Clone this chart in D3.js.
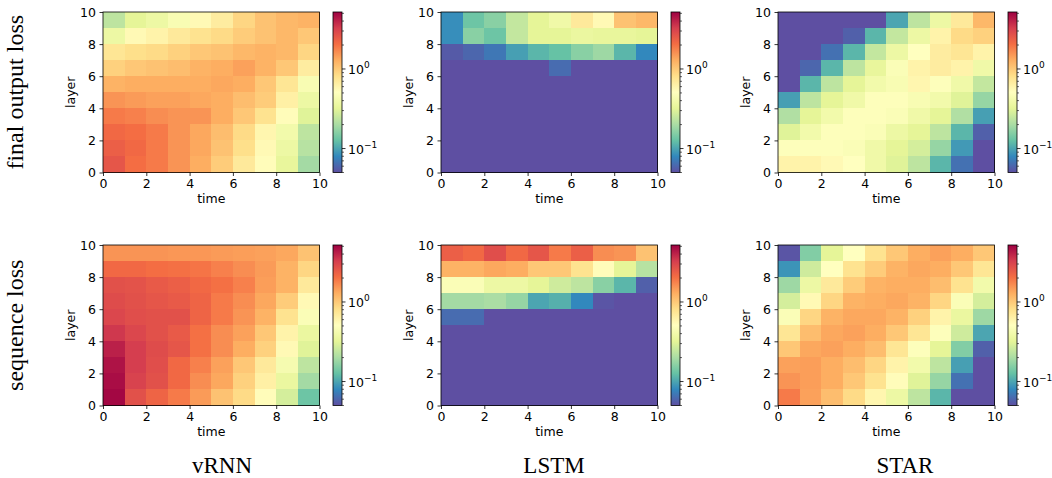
<!DOCTYPE html>
<html>
<head>
<meta charset="utf-8">
<script src="https://cdn.jsdelivr.net/npm/d3@7/dist/d3.min.js"></script>
<style>
  body { margin: 0; background: #fff; }
  svg text { font-family: "DejaVu Sans", sans-serif; fill: #000; }
</style>
</head>
<body>
<script>
// loss values per cell, rows listed from layer 9 (top) down to layer 0, columns = time 0..9
var vrnnFinal = [
  [0.232, 0.321, 0.368, 0.444, 0.560, 0.674, 0.891, 1.07, 1.18, 1.23],
  [0.368, 0.560, 0.614, 0.706, 0.775, 0.850, 0.977, 1.07, 1.18, 1.02],
  [0.740, 0.811, 0.850, 0.933, 1.02, 1.07, 1.18, 1.23, 1.18, 0.891],
  [0.933, 1.02, 1.07, 1.12, 1.23, 1.29, 1.42, 1.23, 1.02, 0.674],
  [1.23, 1.29, 1.29, 1.29, 1.29, 1.35, 1.29, 1.02, 0.740, 0.444],
  [1.55, 1.48, 1.42, 1.42, 1.35, 1.29, 1.12, 0.977, 0.643, 0.368],
  [1.87, 1.79, 1.63, 1.55, 1.55, 1.29, 1.02, 0.775, 0.534, 0.306],
  [2.15, 2.05, 1.87, 1.55, 1.35, 1.12, 0.850, 0.586, 0.404, 0.232],
  [2.36, 2.15, 1.87, 1.55, 1.35, 1.07, 0.811, 0.560, 0.368, 0.221],
  [2.59, 2.05, 1.87, 1.55, 1.29, 0.977, 0.706, 0.534, 0.336, 0.192]
];
var lstmFinal = [
  [0.0834, 0.133, 0.160, 0.243, 0.321, 0.386, 0.706, 0.560, 1.07, 1.18],
  [0.0834, 0.160, 0.133, 0.243, 0.321, 0.321, 0.352, 0.336, 0.336, 0.321],
  [0.0548, 0.0602, 0.0692, 0.0958, 0.115, 0.127, 0.160, 0.184, 0.115, 0.0796],
  [0.04, 0.04, 0.04, 0.04, 0.04, 0.0631, 0.04, 0.04, 0.04, 0.04],
  [0.04, 0.04, 0.04, 0.04, 0.04, 0.04, 0.04, 0.04, 0.04, 0.04],
  [0.04, 0.04, 0.04, 0.04, 0.04, 0.04, 0.04, 0.04, 0.04, 0.04],
  [0.04, 0.04, 0.04, 0.04, 0.04, 0.04, 0.04, 0.04, 0.04, 0.04],
  [0.04, 0.04, 0.04, 0.04, 0.04, 0.04, 0.04, 0.04, 0.04, 0.04],
  [0.04, 0.04, 0.04, 0.04, 0.04, 0.04, 0.04, 0.04, 0.04, 0.04],
  [0.04, 0.04, 0.04, 0.04, 0.04, 0.04, 0.04, 0.04, 0.04, 0.04]
];
var starFinal = [
  [0.04, 0.04, 0.04, 0.04, 0.04, 0.100, 0.232, 0.368, 0.706, 1.18],
  [0.04, 0.04, 0.04, 0.0575, 0.115, 0.243, 0.368, 0.614, 0.850, 0.933],
  [0.04, 0.04, 0.0661, 0.115, 0.243, 0.368, 0.510, 0.674, 0.740, 0.614],
  [0.04, 0.0602, 0.115, 0.232, 0.336, 0.465, 0.614, 0.674, 0.614, 0.386],
  [0.04, 0.115, 0.232, 0.321, 0.404, 0.444, 0.586, 0.487, 0.386, 0.243],
  [0.0958, 0.232, 0.321, 0.386, 0.487, 0.487, 0.444, 0.404, 0.306, 0.175],
  [0.211, 0.321, 0.404, 0.487, 0.487, 0.465, 0.386, 0.321, 0.211, 0.0958],
  [0.306, 0.404, 0.487, 0.487, 0.465, 0.368, 0.321, 0.232, 0.115, 0.0575],
  [0.487, 0.487, 0.487, 0.465, 0.386, 0.321, 0.279, 0.175, 0.0915, 0.04],
  [0.614, 0.614, 0.560, 0.510, 0.386, 0.306, 0.232, 0.115, 0.0661, 0.04]
];
var vrnnSeq = [
  [1.55, 1.55, 1.55, 1.52, 1.52, 1.48, 1.45, 1.42, 1.35, 1.07],
  [2.15, 2.15, 2.05, 2.01, 1.96, 1.79, 1.63, 1.48, 1.23, 0.891],
  [2.71, 2.65, 2.47, 2.36, 2.15, 2.01, 1.79, 1.45, 1.23, 0.706],
  [2.84, 2.71, 2.59, 2.47, 2.25, 1.87, 1.63, 1.35, 0.977, 0.560],
  [2.98, 2.78, 2.71, 2.71, 2.25, 1.87, 1.55, 1.23, 0.775, 0.465],
  [3.43, 2.98, 2.71, 2.47, 2.01, 1.63, 1.42, 1.02, 0.614, 0.352],
  [4.12, 3.27, 2.84, 2.59, 2.01, 1.63, 1.29, 0.933, 0.560, 0.306],
  [4.53, 3.27, 2.78, 2.15, 1.79, 1.42, 1.02, 0.706, 0.424, 0.232],
  [4.74, 3.12, 2.71, 2.15, 1.63, 1.35, 0.933, 0.643, 0.352, 0.192],
  [4.97, 2.71, 2.25, 1.87, 1.48, 1.07, 0.850, 0.534, 0.279, 0.133]
];
var lstmSeq = [
  [2.36, 2.15, 2.78, 2.15, 2.59, 1.87, 2.36, 1.63, 1.55, 1.07],
  [1.23, 1.23, 1.35, 1.29, 1.02, 1.02, 0.775, 0.534, 0.321, 0.221],
  [0.465, 0.465, 0.368, 0.368, 0.321, 0.266, 0.232, 0.160, 0.115, 0.0575],
  [0.192, 0.192, 0.201, 0.175, 0.100, 0.110, 0.0796, 0.0524, 0.04, 0.04],
  [0.0631, 0.0631, 0.04, 0.04, 0.04, 0.04, 0.04, 0.04, 0.04, 0.04],
  [0.04, 0.04, 0.04, 0.04, 0.04, 0.04, 0.04, 0.04, 0.04, 0.04],
  [0.04, 0.04, 0.04, 0.04, 0.04, 0.04, 0.04, 0.04, 0.04, 0.04],
  [0.04, 0.04, 0.04, 0.04, 0.04, 0.04, 0.04, 0.04, 0.04, 0.04],
  [0.04, 0.04, 0.04, 0.04, 0.04, 0.04, 0.04, 0.04, 0.04, 0.04],
  [0.04, 0.04, 0.04, 0.04, 0.04, 0.04, 0.04, 0.04, 0.04, 0.04]
];
var starSeq = [
  [0.0524, 0.153, 0.321, 0.510, 0.775, 1.02, 1.29, 1.42, 1.29, 1.02],
  [0.0873, 0.266, 0.510, 0.775, 0.977, 1.23, 1.35, 1.29, 1.02, 0.740],
  [0.184, 0.368, 0.706, 0.977, 1.23, 1.29, 1.29, 1.12, 0.775, 0.404],
  [0.279, 0.560, 0.891, 1.23, 1.29, 1.35, 1.23, 0.891, 0.465, 0.279],
  [0.465, 0.891, 1.23, 1.35, 1.35, 1.23, 0.933, 0.614, 0.352, 0.184],
  [0.740, 1.12, 1.35, 1.42, 1.29, 1.02, 0.740, 0.487, 0.266, 0.100],
  [1.02, 1.35, 1.42, 1.29, 1.12, 0.740, 0.487, 0.321, 0.153, 0.0575],
  [1.42, 1.45, 1.29, 1.12, 0.891, 0.614, 0.404, 0.232, 0.0958, 0.04],
  [1.55, 1.45, 1.29, 1.02, 0.775, 0.534, 0.306, 0.175, 0.0661, 0.04],
  [1.87, 1.42, 1.12, 0.850, 0.586, 0.368, 0.232, 0.115, 0.04, 0.04]
];

var models = ['vRNN', 'LSTM', 'STAR'];
var lossTypes = ['final output loss', 'sequence loss'];
var grids = [[vrnnFinal, lstmFinal, starFinal], [vrnnSeq, lstmSeq, starSeq]];
var axisTicks = [0, 2, 4, 6, 8, 10];
var cbMajorTicks = [0.1, 1];
var colorDomain = [0.05, 5.2];

// matplotlib Spectral, reversed (low = purple, high = dark red)
var spectralR = ['#5e4fa2', '#3288bd', '#66c2a5', '#abdda4', '#e6f598', '#ffffbf',
                 '#fee08b', '#fdae61', '#f46d43', '#d53e4f', '#9e0142'];

var width = 1052, height = 478;
var panelLeft = [103, 441, 778];
var panelTop = [12, 245];
var pw = 216.5, ph = 160.5;
var cbGap = 13.5, cbW = 9;
var colLabelX = [222, 554, 905];

var svg = d3.select('body').append('svg')
  .attr('width', width)
  .attr('height', height);

svg.append('rect').attr('width', width).attr('height', height).attr('fill', '#fff');

var grad = svg.append('defs').append('linearGradient')
  .attr('id', 'cbgrad')
  .attr('x1', 0).attr('y1', 1).attr('x2', 0).attr('y2', 0);
grad.selectAll('stop')
  .data(spectralR)
  .enter()
  .append('stop')
    .attr('offset', function(d, i) { return i / (spectralR.length - 1); })
    .attr('stop-color', function(d) { return d; });

var cmap = d3.piecewise(d3.interpolateRgb, spectralR);
var norm = d3.scaleLog().domain(colorDomain).range([0, 1]).clamp(true);
function color(v) { return cmap(norm(v)); }

function drawPanel(grid, left, top) {
  var x = d3.scaleLinear().domain([0, 10]).range([left, left + pw]);
  var y = d3.scaleLinear().domain([0, 10]).range([top + ph, top]);
  var g = svg.append('g');

  var cells = [];
  grid.forEach(function(row, r) {
    row.forEach(function(v, t) {
      cells.push({t: t, layer: grid.length - 1 - r, v: v});
    });
  });

  var last = grid.length;
  g.selectAll('rect.cell')
    .data(cells)
    .enter()
    .append('rect')
      .attr('class', 'cell')
      .attr('shape-rendering', 'crispEdges')
      .attr('x', function(d) { return x(d.t); })
      .attr('y', function(d) { return y(d.layer + 1); })
      .attr('width', function(d) { return x(d.t + 1) - x(d.t) + (d.t + 1 < last ? 1 : 0); })
      .attr('height', function(d) { return y(d.layer) - y(d.layer + 1) + (d.layer > 0 ? 1 : 0); })
      .attr('fill', function(d) { return color(d.v); });

  g.append('rect')
    .attr('x', left).attr('y', top)
    .attr('width', pw).attr('height', ph)
    .attr('fill', 'none')
    .attr('stroke', '#000')
    .attr('stroke-width', 0.8);

  var xAxis = g.append('g')
    .attr('transform', 'translate(0,' + (top + ph) + ')')
    .call(d3.axisBottom(x).tickValues(axisTicks).tickSize(3.5).tickPadding(3.5));
  var yAxis = g.append('g')
    .attr('transform', 'translate(' + left + ',0)')
    .call(d3.axisLeft(y).tickValues(axisTicks).tickSize(3.5).tickPadding(3.5));
  [xAxis, yAxis].forEach(function(a) {
    a.select('.domain').remove();
    a.selectAll('line').attr('stroke', '#000').attr('stroke-width', 0.8);
    a.selectAll('text')
      .style('font-family', '"DejaVu Sans", sans-serif')
      .style('font-size', '12.5px')
      .attr('fill', '#000');
  });

  g.append('text')
    .attr('x', left + pw / 2)
    .attr('y', top + ph + 30)
    .attr('text-anchor', 'middle')
    .style('font-size', '12.5px')
    .text('time');

  g.append('text')
    .attr('transform', 'translate(' + (left - 28) + ',' + (top + ph / 2) + ') rotate(-90)')
    .attr('text-anchor', 'middle')
    .style('font-size', '12.5px')
    .text('layer');

  // colorbar
  var cbX = left + pw + cbGap;
  var cbScale = d3.scaleLog().domain(colorDomain).range([top + ph, top]);
  g.append('rect')
    .attr('x', cbX).attr('y', top)
    .attr('width', cbW).attr('height', ph)
    .attr('fill', 'url(#cbgrad)')
    .attr('stroke', '#000')
    .attr('stroke-width', 0.8);

  var minor = cbScale.ticks().filter(function(d) {
    return cbMajorTicks.indexOf(d) < 0 && d >= colorDomain[0] && d <= colorDomain[1];
  });
  g.selectAll('line.minor')
    .data(minor)
    .enter()
    .append('line')
      .attr('x1', cbX + cbW).attr('x2', cbX + cbW + 2)
      .attr('y1', function(d) { return cbScale(d); })
      .attr('y2', function(d) { return cbScale(d); })
      .attr('stroke', '#000').attr('stroke-width', 0.6);

  g.selectAll('line.major')
    .data(cbMajorTicks)
    .enter()
    .append('line')
      .attr('x1', cbX + cbW).attr('x2', cbX + cbW + 3.5)
      .attr('y1', function(d) { return cbScale(d); })
      .attr('y2', function(d) { return cbScale(d); })
      .attr('stroke', '#000').attr('stroke-width', 0.8);

  g.selectAll('text.cbl')
    .data(cbMajorTicks)
    .enter()
    .append('text')
      .attr('x', cbX + cbW + 6)
      .attr('y', function(d) { return cbScale(d) + 5; })
      .style('font-size', '12.5px')
      .each(function(d) {
        var e = Math.round(Math.log10(d));
        var s = d3.select(this);
        s.append('tspan').text('10');
        s.append('tspan')
          .attr('dy', -5.5)
          .style('font-size', '9px')
          .text(e < 0 ? '\u2212' + (-e) : String(e));
      });
}

grids.forEach(function(row, r) {
  row.forEach(function(grid, c) {
    drawPanel(grid, panelLeft[c], panelTop[r]);
  });
});

lossTypes.forEach(function(lbl, r) {
  svg.append('text')
    .attr('transform', 'translate(23,' + (panelTop[r] + ph / 2) + ') rotate(-90)')
    .attr('text-anchor', 'middle')
    .style('font-family', '"Liberation Serif", "Times New Roman", serif')
    .style('font-size', '24px')
    .text(lbl);
});

models.forEach(function(m, c) {
  svg.append('text')
    .attr('x', colLabelX[c])
    .attr('y', 473)
    .attr('text-anchor', 'middle')
    .style('font-family', '"Liberation Serif", "Times New Roman", serif')
    .style('font-size', '23px')
    .text(m);
});
</script>
</body>
</html>
